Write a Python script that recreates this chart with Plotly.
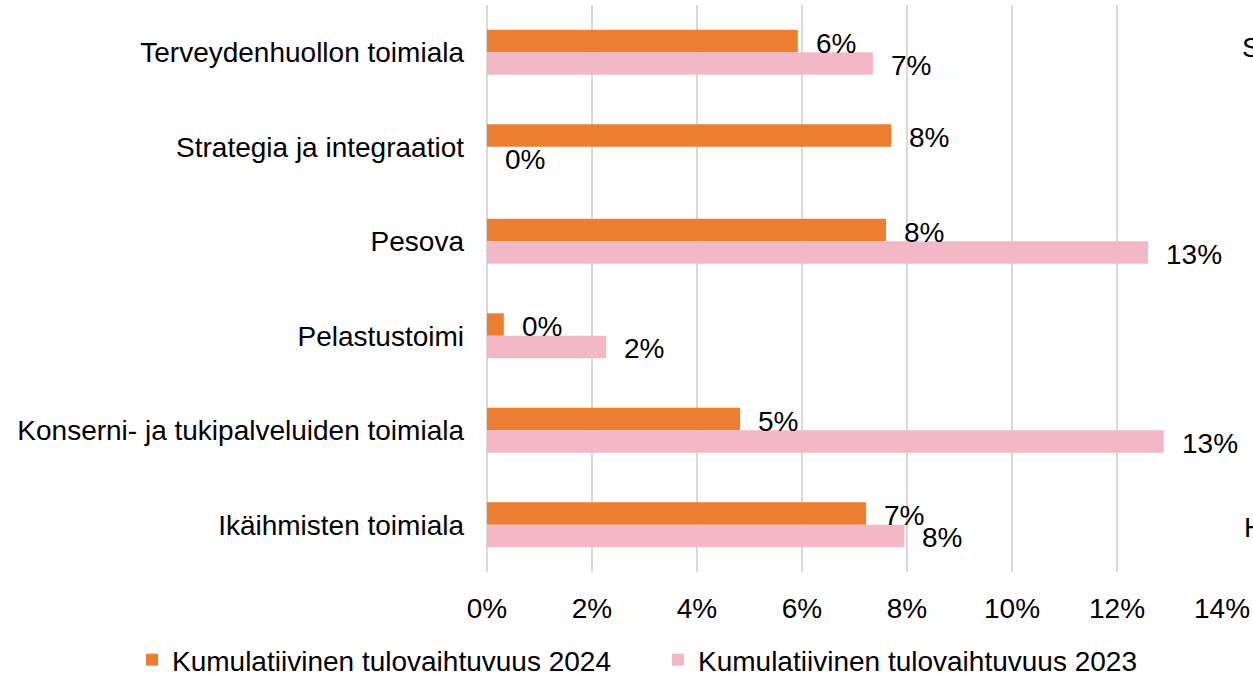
import plotly.graph_objects as go

# Categories, listed top to bottom
categories = [
    "Terveydenhuollon toimiala",
    "Strategia ja integraatiot",
    "Pesova",
    "Pelastustoimi",
    "Konserni- ja tukipalveluiden toimiala",
    "Ikäihmisten toimiala",
]

# Cumulative turnover (share)
values_2024 = [0.0592, 0.0770, 0.0760, 0.0032, 0.0482, 0.0722]
values_2023 = [0.0735, 0.0000, 0.1259, 0.0227, 0.1289, 0.0795]

series_names = [
    "Kumulatiivinen tulovaihtuvuus 2024",
    "Kumulatiivinen tulovaihtuvuus 2023",
]

x_ticks = [0, 0.02, 0.04, 0.06, 0.08, 0.10, 0.12, 0.14]

ORANGE = "#ED7D31"
PINK = "#F2B8C6"
GRID = "#D9D9D9"
FONT = "Liberation Sans, Arial, sans-serif"
FS = 28
W, H = 1253, 677
PLOT_L, PLOT_R, PLOT_T, PLOT_B = 487, 1222, 5, 572


def paper_x(px):
    return (px - PLOT_L) / (PLOT_R - PLOT_L)


def paper_y(py):
    return (PLOT_B - py) / (PLOT_B - PLOT_T)


fig = go.Figure()
fig.add_trace(go.Bar(
    y=categories, x=values_2024, orientation="h", name=series_names[0],
    marker=dict(color=ORANGE, line=dict(width=0)),
))
fig.add_trace(go.Bar(
    y=categories, x=values_2023, orientation="h", name=series_names[1],
    marker=dict(color=PINK, line=dict(width=0)),
))

# Value labels just past the end of each bar
annotations = []
for cat, v in zip(categories, values_2024):
    annotations.append(dict(
        x=v, y=cat, xref="x", yref="y", text=f"{v:.0%}", showarrow=False,
        xanchor="left", yanchor="middle", xshift=16, yshift=9,
        font=dict(family=FONT, size=FS, color="#000000"),
    ))
for cat, v in zip(categories, values_2023):
    annotations.append(dict(
        x=v, y=cat, xref="x", yref="y", text=f"{v:.0%}", showarrow=False,
        xanchor="left", yanchor="middle", xshift=16, yshift=-13,
        font=dict(family=FONT, size=FS, color="#000000"),
    ))

# Text running off the right edge
annotations.append(dict(
    x=paper_x(1240), y=paper_y(47), xref="paper", yref="paper", text="S",
    showarrow=False, xanchor="left", yanchor="middle",
    font=dict(family=FONT, size=FS, color="#000000"),
))
annotations.append(dict(
    x=paper_x(1242), y=paper_y(527), xref="paper", yref="paper", text="H",
    showarrow=False, xanchor="left", yanchor="middle",
    font=dict(family=FONT, size=FS, color="#000000"),
))

fig.update_layout(
    width=W, height=H,
    margin=dict(l=PLOT_L, r=W - PLOT_R, t=PLOT_T, b=H - PLOT_B, autoexpand=False),
    paper_bgcolor="white", plot_bgcolor="white",
    barmode="group", bargap=0.525, bargroupgap=0,
    font=dict(family=FONT, size=FS, color="#000000"),
    showlegend=True,
    legend=dict(
        orientation="h", xref="paper", yref="paper",
        x=paper_x(132), xanchor="left", y=paper_y(635), yanchor="top",
        entrywidth=481, entrywidthmode="pixels",
        font=dict(family=FONT, size=FS, color="#000000"),
        itemsizing="constant", tracegroupgap=0,
    ),
    annotations=annotations,
)

fig.update_xaxes(
    range=[0, 0.14], tickvals=x_ticks, tickformat=".0%",
    showgrid=True, gridcolor=GRID, gridwidth=1.5,
    zeroline=True, zerolinecolor=GRID, zerolinewidth=1.5,
    showline=False, ticks="", ticklabelstandoff=17,
    tickfont=dict(family=FONT, size=FS, color="#000000"),
    fixedrange=True,
)
fig.update_yaxes(
    autorange="reversed", showgrid=False, showline=False, zeroline=False,
    ticks="", ticklabelstandoff=22,
    tickfont=dict(family=FONT, size=FS, color="#000000"),
    fixedrange=True,
)

fig.write_html("out.html")
